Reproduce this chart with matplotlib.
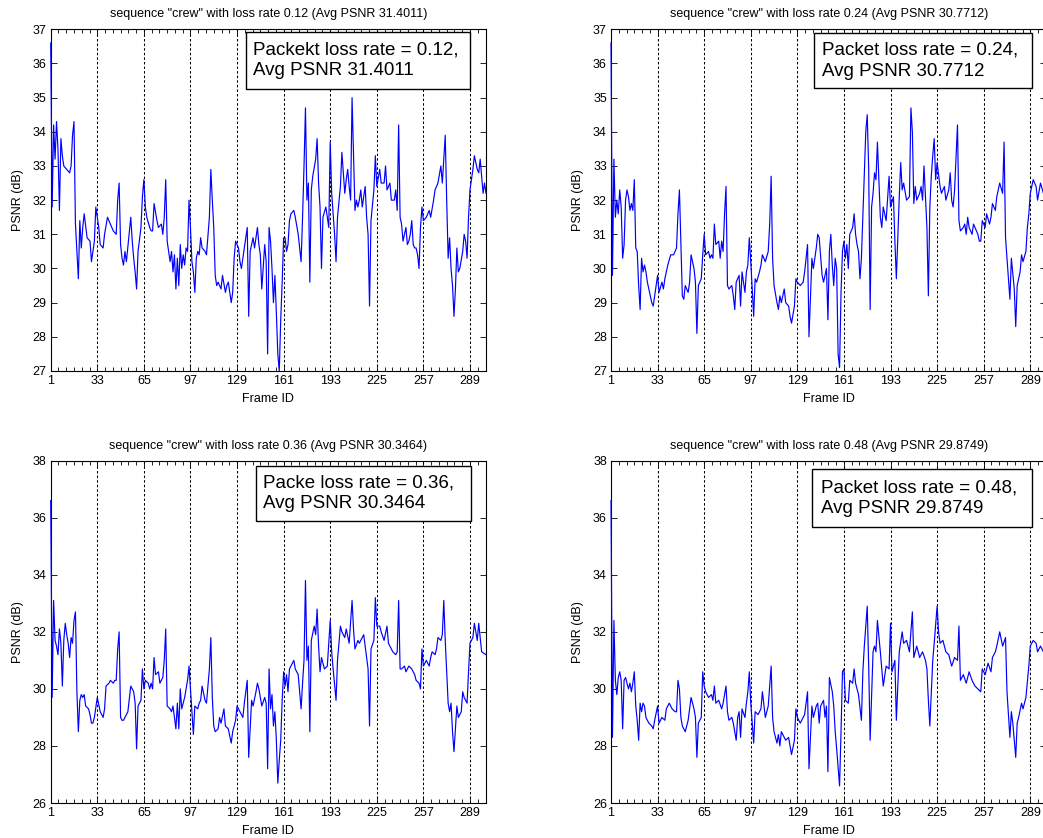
import numpy as np
import matplotlib
matplotlib.use("Agg")
import matplotlib.pyplot as plt
from matplotlib.patches import Rectangle
from matplotlib.ticker import FixedLocator

plt.rcParams['font.family'] = ['Liberation Sans', 'DejaVu Sans']

# ---------------- data (frame, PSNR) ----------------
psnr_012 = [(1,36.6),(2,31.8),(3,34.2),(4,33.2),(5,34.3),(6,33.5),(7,31.7),(8,33.8),(9,33.3),(10,33.0),(12,32.9),(14,32.8),(15,33.0),(16,33.9),(17,34.3),(18,31.3),(19,30.5),(20,29.7),(21,31.4),(22,30.6),(23,31.2),(24,31.6),(26,30.9),(28,30.8),(29,30.2),(31,30.8),(32,31.8),(34,31.2),(35,30.7),(37,30.6),(38,31.0),(40,31.5),(42,31.3),(44,31.1),(46,31.0),(47,32.0),(48,32.5),(49,30.7),(50,30.3),(51,30.1),(52,30.5),(53,30.2),(56,31.5),(57,30.8),(58,30.3),(59,29.9),(60,29.4),(61,30.5),(63,31.2),(64,32.1),(65,32.6),(66,31.8),(67,31.5),(69,31.2),(70,31.1),(71,31.1),(72,31.9),(74,31.4),(75,31.2),(77,31.3),(78,31.0),(79,31.5),(80,32.6),(81,30.8),(83,30.2),(84,30.5),(85,29.9),(86,30.4),(87,29.4),(88,30.3),(89,29.5),(90,30.7),(91,30.0),(92,30.4),(93,30.1),(94,30.6),(95,30.5),(96,32.0),(97,31.2),(98,30.2),(99,29.9),(100,29.3),(101,30.3),(102,30.5),(103,30.4),(104,30.9),(105,30.6),(107,30.5),(108,30.4),(110,31.5),(111,32.9),(112,32.0),(113,31.2),(114,29.8),(115,29.5),(116,29.6),(118,29.4),(119,29.8),(121,29.3),(122,29.5),(123,29.6),(125,29.0),(126,29.3),(127,30.3),(128,30.8),(130,30.6),(131,30.2),(132,30.0),(134,30.6),(136,31.2),(137,28.6),(138,30.5),(140,30.9),(141,30.6),(143,31.2),(144,30.7),(145,30.4),(146,29.4),(148,30.7),(149,30.2),(150,27.5),(151,31.2),(152,30.8),(153,30.0),(154,29.0),(155,29.8),(156,28.7),(157,27.5),(158,27.0),(159,28.5),(160,29.6),(161,30.9),(162,30.9),(163,30.5),(164,30.7),(165,31.4),(166,31.6),(168,31.7),(169,31.5),(171,31.0),(172,30.6),(173,30.2),(174,31.5),(175,33.0),(176,34.7),(177,32.0),(178,32.5),(179,29.6),(180,32.3),(181,32.7),(183,33.2),(184,33.8),(185,32.5),(186,31.8),(187,30.0),(188,31.5),(190,31.8),(192,31.2),(193,33.7),(194,32.2),(195,31.6),(196,31.0),(197,30.2),(198,31.5),(200,32.4),(201,33.4),(202,32.8),(203,32.2),(204,32.6),(205,32.9),(206,32.4),(207,32.0),(208,35.0),(209,33.3),(210,31.7),(211,32.0),(212,31.8),(213,32.0),(214,32.3),(215,31.8),(217,32.4),(218,31.5),(219,31.0),(220,28.9),(221,31.4),(223,32.3),(224,33.3),(225,32.4),(227,32.9),(228,32.5),(230,32.5),(231,33.0),(232,32.3),(234,32.5),(235,32.0),(237,32.0),(238,32.3),(239,31.7),(240,34.2),(241,31.5),(242,31.3),(243,30.8),(245,31.2),(246,30.7),(247,30.8),(248,31.0),(249,31.4),(250,30.7),(251,30.6),(252,30.6),(253,30.4),(254,30.0),(255,31.2),(256,31.8),(257,31.4),(259,31.5),(261,31.7),(262,31.5),(264,32.0),(265,32.3),(267,32.5),(269,33.0),(270,32.5),(272,33.9),(273,32.0),(274,30.3),(275,30.9),(276,30.0),(277,29.5),(278,28.6),(279,29.4),(280,30.6),(281,29.9),(282,30.0),(284,30.5),(285,31.0),(286,30.8),(287,30.3),(288,31.5),(289,32.3),(291,32.9),(292,33.3),(294,32.9),(295,32.8),(296,33.2),(298,32.2),(299,32.5),(300,32.2)]

psnr_024 = [(1,36.6),(2,29.8),(3,33.2),(4,31.5),(5,32.0),(6,31.6),(7,32.3),(8,31.8),(9,30.3),(10,30.7),(11,32.0),(12,32.3),(13,32.1),(14,31.7),(15,31.9),(16,31.7),(17,32.6),(18,30.6),(19,30.5),(20,29.5),(21,28.8),(22,30.3),(23,29.9),(24,30.1),(25,29.9),(26,29.6),(27,29.4),(28,29.2),(29,29.0),(30,28.9),(31,29.2),(33,29.8),(34,29.3),(36,29.6),(37,29.4),(38,29.7),(40,30.1),(42,30.4),(44,30.4),(46,30.6),(47,31.6),(48,32.3),(49,30.8),(50,29.2),(51,29.1),(52,29.5),(54,29.3),(55,29.6),(56,30.4),(58,30.0),(59,29.6),(60,28.1),(61,29.5),(63,29.7),(64,30.4),(65,31.0),(66,30.4),(68,30.5),(69,30.3),(70,30.4),(71,30.3),(72,31.3),(73,30.7),(75,30.8),(76,30.3),(77,30.8),(78,30.5),(79,31.6),(80,32.4),(81,29.5),(82,29.4),(84,29.5),(85,29.2),(86,28.8),(87,29.6),(89,29.8),(90,28.9),(91,29.9),(93,29.3),(94,29.9),(95,30.1),(96,30.9),(97,30.2),(99,28.6),(100,29.7),(101,29.6),(103,29.9),(104,30.1),(105,30.4),(107,30.2),(109,30.5),(110,31.3),(111,32.7),(112,30.3),(113,29.5),(115,29.0),(116,28.8),(117,29.2),(118,29.0),(120,29.4),(121,29.0),(123,28.9),(124,28.6),(125,28.4),(127,28.9),(128,29.7),(129,29.6),(131,29.5),(133,29.6),(134,29.9),(136,30.7),(137,28.0),(139,30.3),(140,30.0),(142,30.6),(143,31.0),(144,30.9),(146,29.8),(147,29.6),(149,30.0),(150,28.5),(151,30.5),(152,31.0),(153,30.1),(154,29.5),(155,30.3),(156,30.0),(157,27.5),(158,27.1),(159,29.3),(160,30.5),(161,30.8),(162,30.3),(163,30.7),(164,30.0),(165,31.0),(166,31.1),(167,31.2),(168,31.6),(169,31.0),(170,30.7),(171,30.5),(172,29.7),(173,30.3),(175,32.8),(176,34.0),(177,34.5),(178,32.9),(179,28.8),(180,31.8),(181,32.2),(182,32.8),(183,32.6),(184,33.7),(185,32.6),(186,31.5),(187,31.2),(188,31.8),(190,31.4),(192,32.7),(193,31.8),(195,32.1),(196,30.8),(197,29.7),(199,32.1),(200,33.1),(201,32.3),(202,32.5),(204,32.0),(206,32.1),(207,34.7),(208,34.0),(209,31.9),(210,32.4),(211,32.0),(213,32.2),(214,32.4),(215,32.0),(216,33.0),(218,31.2),(219,29.2),(220,31.8),(221,32.7),(222,33.3),(223,33.8),(224,32.6),(225,33.1),(227,32.4),(228,32.2),(230,32.4),(231,32.0),(233,32.3),(234,32.8),(235,32.0),(236,31.8),(237,32.3),(239,34.2),(240,31.4),(241,31.1),(243,31.2),(244,31.3),(245,31.0),(246,31.5),(247,31.2),(249,31.0),(250,31.3),(252,31.1),(253,31.0),(254,30.8),(255,30.8),(256,31.4),(258,31.2),(259,31.6),(261,31.3),(262,31.5),(263,31.9),(265,31.7),(266,32.1),(268,32.5),(270,32.2),(271,33.7),(272,30.9),(274,29.7),(275,29.1),(276,30.3),(278,29.4),(279,28.3),(280,29.5),(282,29.9),(283,30.4),(284,30.2),(286,30.5),(287,31.2),(288,31.6),(289,32.2),(291,32.6),(293,32.4),(294,32.0),(296,32.5),(298,32.2),(300,32.0)]

psnr_036 = [(1,36.6),(2,29.7),(3,33.1),(4,31.7),(5,31.5),(6,31.2),(7,32.1),(8,31.6),(9,30.1),(10,31.7),(11,32.3),(12,31.9),(13,31.6),(14,31.1),(15,31.8),(16,31.6),(17,32.4),(18,32.7),(19,29.9),(20,28.5),(21,29.6),(22,29.8),(23,29.7),(24,29.8),(25,29.4),(27,29.3),(28,29.1),(29,28.8),(30,28.8),(31,29.0),(33,29.7),(35,29.2),(36,29.1),(37,29.0),(38,29.3),(39,30.1),(41,30.2),(42,30.3),(44,30.2),(45,30.3),(46,30.3),(47,31.4),(48,32.0),(49,29.0),(50,28.9),(51,28.9),(53,29.1),(54,29.2),(56,30.1),(58,29.9),(59,29.5),(60,27.9),(61,29.4),(63,29.6),(64,30.7),(65,30.0),(66,30.3),(68,30.2),(69,30.0),(70,30.2),(71,30.0),(72,31.1),(73,30.5),(75,30.6),(76,30.2),(78,30.4),(79,31.0),(80,32.1),(81,29.4),(83,29.3),(84,29.2),(85,29.4),(87,28.6),(88,29.5),(89,28.6),(90,30.0),(91,29.3),(93,29.7),(94,30.0),(95,30.3),(96,30.8),(97,30.0),(99,28.4),(100,29.4),(102,29.3),(103,29.5),(104,29.6),(105,30.1),(107,29.6),(108,29.5),(110,30.7),(111,31.8),(112,29.7),(113,28.7),(114,28.5),(116,28.6),(117,29.0),(118,28.8),(120,29.3),(121,28.7),(123,28.6),(125,28.1),(126,28.5),(128,28.9),(129,29.4),(130,29.3),(132,29.1),(133,29.0),(134,29.5),(136,30.3),(137,27.6),(139,29.6),(140,29.4),(142,29.9),(143,30.2),(144,30.0),(146,29.4),(148,29.7),(149,29.5),(150,27.2),(151,30.7),(152,29.3),(153,29.8),(154,28.7),(155,29.2),(156,28.2),(157,26.7),(158,27.5),(159,28.2),(160,29.6),(161,30.6),(162,30.1),(163,30.5),(164,29.9),(165,30.7),(166,30.8),(168,31.0),(169,30.7),(171,30.5),(173,29.3),(174,30.2),(175,31.0),(176,33.8),(177,31.0),(178,31.5),(179,28.5),(180,31.7),(182,32.2),(183,31.9),(184,32.8),(185,31.5),(186,30.6),(187,31.1),(189,30.7),(191,30.8),(193,32.4),(194,31.3),(195,30.7),(197,29.6),(198,31.0),(200,32.2),(201,32.0),(203,31.8),(204,32.1),(206,31.6),(208,33.1),(209,32.1),(210,31.4),(212,31.7),(213,31.6),(215,31.8),(216,31.9),(217,31.5),(219,30.7),(220,28.7),(221,31.4),(223,31.7),(224,33.2),(225,32.2),(227,32.2),(228,32.0),(230,31.7),(232,32.2),(233,31.6),(234,31.5),(236,31.3),(238,31.2),(239,31.3),(240,33.1),(241,30.7),(242,30.7),(244,30.8),(245,30.6),(247,30.8),(249,30.7),(251,30.5),(252,30.3),(254,30.2),(255,30.0),(256,31.4),(257,30.8),(259,31.0),(261,30.8),(262,31.1),(263,31.3),(265,31.2),(266,31.4),(267,31.8),(269,31.7),(270,31.9),(271,33.1),(272,31.7),(274,29.5),(275,29.2),(276,29.5),(277,28.5),(278,27.8),(280,29.4),(281,29.0),(283,29.2),(284,29.9),(285,29.7),(287,29.5),(288,30.6),(289,31.6),(291,31.8),(292,32.3),(294,31.7),(295,32.3),(297,31.3),(300,31.2)]

psnr_048 = [(1,36.6),(2,28.3),(3,32.4),(4,30.3),(5,29.8),(6,30.4),(7,30.6),(8,30.3),(9,28.6),(10,30.3),(11,30.4),(12,30.2),(13,30.0),(14,30.2),(15,29.9),(16,30.2),(17,30.6),(18,29.4),(19,28.9),(20,28.2),(21,29.5),(22,29.2),(23,29.5),(24,29.4),(25,29.0),(27,28.8),(29,28.7),(30,28.6),(31,28.9),(33,29.4),(34,28.8),(36,29.0),(38,28.9),(39,29.3),(41,29.5),(43,29.3),(45,29.2),(46,29.2),(47,30.3),(48,30.0),(49,29.0),(50,28.7),(52,28.5),(54,28.9),(56,29.7),(58,29.3),(59,29.0),(60,27.6),(61,28.8),(63,29.0),(64,30.6),(65,30.1),(66,29.9),(68,29.7),(70,29.8),(71,29.6),(72,30.1),(73,29.5),(75,29.6),(77,29.3),(78,29.5),(79,29.8),(80,30.1),(81,29.2),(82,28.9),(84,29.0),(85,28.8),(87,28.2),(88,29.0),(89,29.2),(90,28.3),(91,29.3),(93,29.0),(94,29.5),(95,29.9),(96,30.6),(97,29.5),(99,28.1),(100,29.2),(102,29.1),(104,29.3),(105,29.9),(107,29.0),(109,29.4),(110,30.1),(111,30.8),(112,29.0),(113,28.5),(115,28.1),(116,28.4),(117,28.0),(118,28.5),(120,28.3),(121,28.2),(123,28.3),(124,28.0),(125,27.7),(127,28.2),(128,29.3),(129,29.0),(131,28.8),(133,29.0),(134,29.1),(136,29.9),(137,27.2),(139,29.4),(140,29.0),(142,29.4),(143,29.5),(144,28.8),(145,29.4),(147,29.6),(148,29.0),(149,29.4),(150,27.1),(151,30.4),(153,29.9),(154,29.4),(155,28.5),(156,27.9),(158,26.6),(159,28.5),(160,30.6),(161,30.7),(162,29.6),(164,29.5),(165,30.3),(167,30.2),(168,30.7),(169,30.2),(171,29.8),(173,28.9),(174,30.6),(175,31.5),(177,32.9),(178,30.8),(179,28.2),(181,31.3),(182,31.5),(183,31.3),(184,32.4),(186,31.3),(187,30.7),(188,30.1),(190,30.8),(192,30.7),(193,32.3),(194,30.6),(196,31.0),(197,28.9),(199,31.3),(201,32.0),(202,31.6),(204,31.7),(206,31.3),(208,32.7),(209,31.1),(211,31.5),(213,31.1),(215,31.3),(217,31.0),(218,30.7),(219,29.6),(220,28.7),(222,31.0),(223,31.6),(225,32.9),(226,32.0),(227,31.6),(229,31.7),(231,31.3),(233,31.2),(235,30.8),(237,31.1),(239,31.0),(240,32.2),(241,30.3),(243,30.5),(245,30.2),(247,30.6),(249,30.3),(251,30.1),(253,30.0),(255,29.9),(256,30.7),(258,30.5),(260,30.9),(262,30.6),(263,31.1),(265,31.3),(266,31.5),(268,32.0),(270,31.5),(272,31.8),(273,29.9),(275,28.3),(276,29.2),(277,28.8),(279,27.6),(280,28.8),(281,29.0),(283,29.5),(284,29.3),(286,29.7),(288,30.8),(289,31.5),(291,31.7),(293,31.6),(294,31.3),(296,31.5),(298,31.3),(300,31.3)]

loss_rates = ["0.12", "0.24", "0.36", "0.48"]
avg_psnr = ["31.4011", "30.7712", "30.3464", "29.8749"]
box_prefix = ["Packekt loss rate", "Packet loss rate", "Packe loss rate", "Packet loss rate"]
series = [psnr_012, psnr_024, psnr_036, psnr_048]
ylims = [(27, 37), (27, 37), (26, 38), (26, 38)]
ysteps = [1, 1, 2, 2]
xtick_vals = [1, 33, 65, 97, 129, 161, 193, 225, 257, 289]

# ---------------- layout ----------------
W, H = 1043, 838
fig = plt.figure(figsize=(W / 100, H / 100), dpi=100)

def rect(l, t, r, b):
    return [l / W, 1 - b / H, (r - l) / W, (b - t) / H]

axes_rects = [rect(50.7, 29.3, 486.0, 371.0), rect(611.0, 29.3, 1046.3, 371.0),
              rect(50.7, 460.7, 486.0, 803.0), rect(611.0, 460.7, 1046.3, 803.0)]
# text boxes in axes fraction: (x0, x1, ybottom, ytop, text_x)
boxes = [(0.4487, 0.9632, 0.8253, 0.9921, 0.4650),
         (0.4663, 0.9672, 0.8273, 0.9883, 0.4840),
         (0.4716, 0.9657, 0.8238, 0.9845, 0.4869),
         (0.4617, 0.9672, 0.8063, 0.9757, 0.4818)]

minor_ticks = [1 + k * 32 / 6 for k in range(0, 57) if k % 6 != 0]

for i in range(4):
    ax = fig.add_axes(axes_rects[i])
    fr, val = zip(*series[i])
    ax.plot(fr, val, color='#0000FF', linewidth=0.85, zorder=3, clip_on=False)
    for xv in xtick_vals[1:]:
        ax.axvline(xv, color='black', linestyle=(0, (2.4, 2.0)), linewidth=0.75, zorder=1)
    ax.set_xlim(1, 300)
    ax.set_ylim(*ylims[i])
    ax.set_xticks(xtick_vals)
    ax.xaxis.set_minor_locator(FixedLocator(minor_ticks))
    ax.set_yticks(np.arange(ylims[i][0], ylims[i][1] + 0.1, ysteps[i]))
    ax.tick_params(axis='both', which='both', direction='in', top=True, right=True,
                   labelsize=9, pad=3, width=0.6)
    ax.tick_params(axis='both', which='major', length=4)
    ax.tick_params(axis='x', which='minor', length=3)
    for sp in ax.spines.values():
        sp.set_linewidth(0.8)
    ax.set_title(f'sequence "crew" with loss rate {loss_rates[i]} (Avg PSNR {avg_psnr[i]})',
                 fontsize=9, pad=8.5)
    ax.set_xlabel('Frame ID', fontsize=9, labelpad=4)
    ax.set_ylabel('PSNR (dB)', fontsize=9, labelpad=6)
    x0, x1, yb, yt, tx = boxes[i]
    ax.add_patch(Rectangle((x0, yb), x1 - x0, yt - yb, transform=ax.transAxes,
                           facecolor='white', edgecolor='black', linewidth=1.0,
                           zorder=5, clip_on=False))
    ax.text(tx, (yb + yt) / 2, f'{box_prefix[i]} = {loss_rates[i]},\nAvg PSNR {avg_psnr[i]}',
            transform=ax.transAxes, fontsize=13.5, va='center', ha='left',
            linespacing=1.3, zorder=6)

fig.savefig('out.png', dpi=100, facecolor='white')
